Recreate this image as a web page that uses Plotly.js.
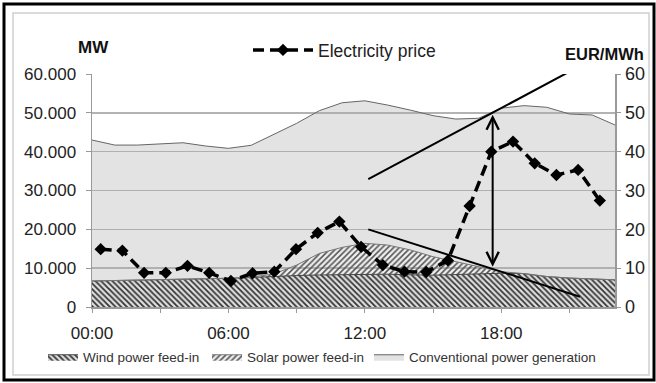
<!DOCTYPE html>
<html>
<head>
<meta charset="utf-8">
<script src="https://cdn.plot.ly/plotly-3.0.1.min.js"></script>
<style>html,body{margin:0;padding:0;background:#fff}#chart{width:656px;height:383px}</style>
</head>
<body>
<div id="chart"></div>
<script>
// hours of the day (0..23)
const hours = [0,1,2,3,4,5,6,7,8,9,10,11,12,13,14,15,16,17,18,19,20,21,22,23];
const xTickVals = [0,3,6,9,12,15,18,21];
const xTickText = ['00:00','','06:00','','12:00','','18:00',''];

// MW
const wind = [6700,6800,6900,7000,7150,7250,7400,7600,7900,8100,8250,8350,8500,8450,8300,8200,8350,8550,8700,8600,7850,7450,7150,7000];
const solar = [0,0,0,0,0,0,0,100,600,2700,5550,7000,7900,7500,6400,4750,3300,1850,400,0,0,0,0,0];
const conventional = [36300,34900,34800,35000,35150,34210,33460,33940,36050,36500,36760,37250,36700,36050,36000,36320,36750,38200,42100,43250,43580,42250,42290,39870];

// EUR/MWh
const priceSlots = [0,1,2,3,4,5,6,7,8,9,10,11,12,13,14,15,16,17,18,19,20,21,22,23];
const price = [14.9,14.5,8.8,8.8,10.6,8.8,6.7,8.7,9.1,14.9,19.1,22.0,15.5,10.8,9.1,9.0,12.0,26.0,40.0,42.6,37.0,34.0,35.3,27.4];

const FONT = '"Liberation Sans", Arial, Helvetica, sans-serif';

const traces = [
  {
    x: hours, y: wind, name: 'Wind power feed-in', type: 'scatter', mode: 'lines',
    stackgroup: 'gen', line: {color: '#444', width: 1},
    fillcolor: 'rgba(120,120,120,0.25)',
    fillpattern: {shape: '\\', fgcolor: '#333', bgcolor: 'rgba(150,150,150,0.3)', size: 4, solidity: 0.45},
    legend: 'legend', hoverinfo: 'skip'
  },
  {
    x: hours, y: solar, name: 'Solar power feed-in', type: 'scatter', mode: 'lines',
    stackgroup: 'gen', line: {color: '#777', width: 1},
    fillcolor: 'rgba(150,150,150,0.2)',
    fillpattern: {shape: '/', fgcolor: '#555', bgcolor: 'rgba(190,190,190,0.25)', size: 4, solidity: 0.4},
    legend: 'legend3', hoverinfo: 'skip'
  },
  {
    x: hours, y: conventional, name: 'Conventional power generation', type: 'scatter', mode: 'lines',
    stackgroup: 'gen', line: {color: '#666', width: 1},
    fillcolor: 'rgba(170,170,170,0.33)',
    legend: 'legend4', hoverinfo: 'skip'
  },
  {
    x: priceSlots, y: price, name: 'Electricity price', type: 'scatter', mode: 'lines+markers',
    xaxis: 'x2', yaxis: 'y2',
    line: {color: '#000', width: 3.5, dash: '11px,6px'},
    marker: {symbol: 'diamond', size: 9.5, color: '#000'},
    legend: 'legend2', hoverinfo: 'skip'
  }
];

const L = 92, R = 615, T = 74, B = 307;
function px(xp){ return (xp - L) / (R - L); }
function py(yp){ return (B - yp) / (B - T); }

function bottomLegend(textX){
  return {
    xref: 'container', yref: 'container',
    x: (textX - 40) / 656, xanchor: 'left', y: 1 - 357/383, yanchor: 'middle',
    font: {size: 13.5, color: '#333'}, bgcolor: 'rgba(0,0,0,0)', itemwidth: 30
  };
}

const layout = {
  width: 656, height: 383,
  margin: {l: 92, r: 41, t: 74, b: 76, pad: 0, autoexpand: false},
  paper_bgcolor: '#fff', plot_bgcolor: 'rgba(0,0,0,0)',
  separators: ',.',
  font: {family: FONT, color: '#222'},
  showlegend: true,
  xaxis: {
    range: [0, 23], tickvals: xTickVals, ticktext: xTickText,
    ticks: 'outside', ticklen: 4, tickcolor: '#999', tickwidth: 1,
    showline: true, linecolor: '#999', linewidth: 1.5,
    showgrid: false, zeroline: false, automargin: false,
    tickfont: {size: 17, color: '#222'}, ticklabelstandoff: 6
  },
  yaxis: {
    range: [0, 60000], dtick: 10000, tickformat: ',d',
    ticks: 'outside', ticklen: 5, tickcolor: '#999',
    showline: true, linecolor: '#999', linewidth: 1.5,
    gridcolor: '#b3b3b3', gridwidth: 1.5, zeroline: false, automargin: false,
    tickfont: {size: 17, color: '#222'}, ticklabelstandoff: 6
  },
  xaxis2: {overlaying: 'x', anchor: 'y2', range: [-0.4, 23.7], visible: false},
  yaxis2: {
    overlaying: 'y', side: 'right', anchor: 'x2', range: [0, 60], dtick: 10,
    ticks: 'outside', ticklen: 4, tickcolor: '#999',
    showline: true, linecolor: '#999', linewidth: 1.5,
    showgrid: false, zeroline: false, automargin: false,
    tickfont: {size: 18, color: '#222'}, ticklabelstandoff: 1
  },
  legend: bottomLegend(83),
  legend3: bottomLegend(247),
  legend4: bottomLegend(409),
  legend2: {
    xref: 'container', yref: 'container',
    x: 248/656, xanchor: 'left', y: 1 - 50/383, yanchor: 'middle',
    font: {size: 17.5, color: '#222'}, bgcolor: 'rgba(0,0,0,0)', itemwidth: 60
  },
  shapes: [
    {type: 'rect', xref: 'paper', yref: 'paper', x0: px(4), x1: px(654), y0: py(4), y1: py(380),
     line: {color: '#000', width: 3}, layer: 'below'},
    {type: 'rect', xref: 'paper', yref: 'paper', x0: px(13), x1: px(649), y0: py(13), y1: py(375),
     line: {color: '#d0d0d0', width: 1.5}, layer: 'below'},
    {type: 'line', xref: 'x', yref: 'y', x0: 12.15, y0: 32900, x1: 20.93, y1: 60400,
     line: {color: '#000', width: 2}},
    {type: 'line', xref: 'x', yref: 'y', x0: 12.15, y0: 20000, x1: 21.46, y1: 2650,
     line: {color: '#000', width: 2}}
  ],
  annotations: [
    {xref: 'x', yref: 'y', x: 17.62, y: 49500, axref: 'x', ayref: 'y', ax: 17.62, ay: 10000,
     text: '', showarrow: true, arrowside: 'end+start', arrowhead: 5, startarrowhead: 5,
     arrowsize: 1.2, startarrowsize: 1.2, arrowwidth: 2, arrowcolor: '#000'},
    {xref: 'paper', yref: 'paper', x: px(93), y: py(47), text: '<b>MW</b>', showarrow: false,
     font: {size: 17, color: '#111'}, xanchor: 'center', yanchor: 'middle'},
    {xref: 'paper', yref: 'paper', x: px(604), y: py(54), text: '<b>EUR/MWh</b>', showarrow: false,
     font: {size: 16.5, color: '#111'}, xanchor: 'center', yanchor: 'middle'}
  ]
};

Plotly.newPlot('chart', traces, layout, {displayModeBar: false, staticPlot: true});
</script>
</body>
</html>
